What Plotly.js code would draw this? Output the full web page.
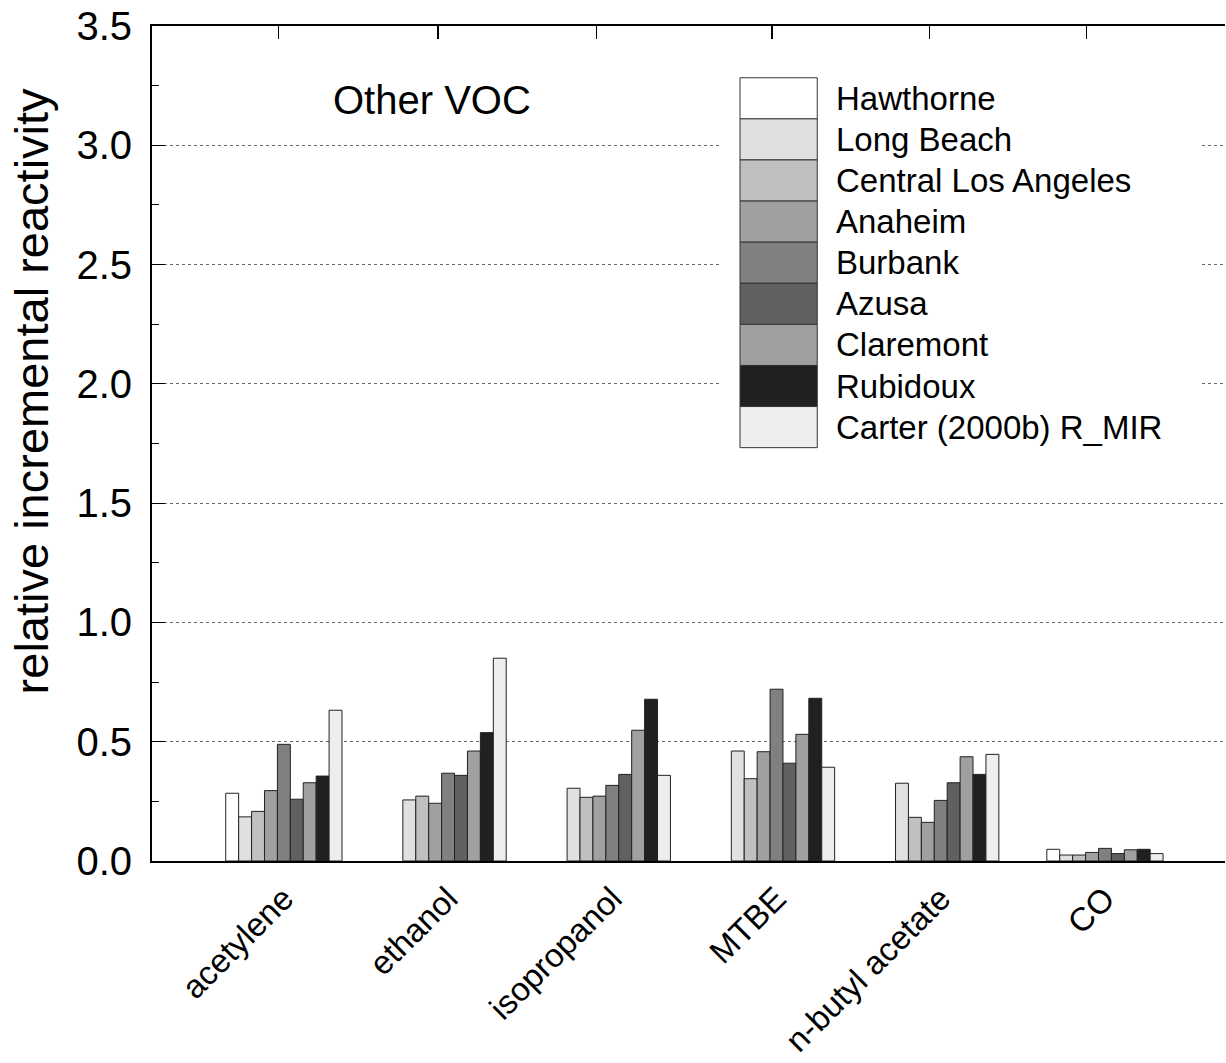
<!DOCTYPE html>
<html>
<head>
<meta charset="utf-8">
<script src="https://cdn.plot.ly/plotly-3.0.1.min.js"></script>
<style>
  html, body { margin: 0; padding: 0; background: #fff; }
  #chart { width: 1226px; height: 1063px; }
</style>
</head>
<body>
<div id="chart"></div>
<script>
// Compounds on the category axis
const compounds = ['acetylene', 'ethanol', 'isopropanol', 'MTBE', 'n-butyl acetate', 'CO'];

// Sites / reference set, in plotting order
const siteNames = ['Hawthorne', 'Long Beach', 'Central Los Angeles', 'Anaheim', 'Burbank',
                   'Azusa', 'Claremont', 'Rubidoux', 'Carter (2000b) R_MIR'];

// Relative incremental reactivity per site (null = no value)
const hawthorne   = [0.284, null,  null,  null,  null,  0.049];
const longBeach   = [0.185, 0.256, 0.305, 0.461, 0.326, 0.025];
const centralLA   = [0.208, 0.272, 0.267, 0.345, 0.183, 0.025];
const anaheim     = [0.295, 0.242, 0.272, 0.458, 0.162, 0.036];
const burbank     = [0.489, 0.368, 0.317, 0.720, 0.254, 0.053];
const azusa       = [0.259, 0.359, 0.363, 0.410, 0.328, 0.031];
const claremont   = [0.328, 0.461, 0.548, 0.531, 0.437, 0.047];
const rubidoux    = [0.356, 0.538, 0.678, 0.682, 0.363, 0.049];
const carterRMIR  = [0.632, 0.850, 0.359, 0.393, 0.447, 0.031];

const siteValues = [hawthorne, longBeach, centralLA, anaheim, burbank,
                    azusa, claremont, rubidoux, carterRMIR];

// Grey fills for each site
const siteFills = ['#ffffff', '#e0e0e0', '#c0c0c0', '#a0a0a0', '#808080',
                   '#606060', '#a0a0a0', '#202020', '#eeeeee'];

// Mirrored tick marks along the top frame (x-axis units)
const topTicks = [-0.032, 0.938, 1.905, 2.971, 3.931, 4.887];

const FONT = 'Liberation Sans, Arial, Helvetica, sans-serif';
const xRange = [-0.803, 5.731];

const traces = siteNames.map((name, i) => ({
  type: 'bar',
  name: name,
  x: compounds,
  y: siteValues[i],
  marker: { color: siteFills[i], line: { color: '#222222', width: 1 } },
  showlegend: false,
  hoverinfo: 'x+y+name'
}));

// Hand-built key: stacked swatches with labels, on a white panel that masks the grid
const keyLeft = 0.548, keyRight = 0.620, keyTop = 0.938, keyStep = 0.04922;
const shapes = [
  { type: 'rect', xref: 'paper', yref: 'paper', x0: 0.529, x1: 0.977, y0: 0.49, y1: 0.95,
    fillcolor: '#ffffff', line: { width: 0 }, layer: 'above' }
];
const annotations = [
  { xref: 'paper', yref: 'paper', x: 0.1670, y: 0.9114, xanchor: 'left', yanchor: 'middle',
    text: 'Other VOC', showarrow: false, font: { family: FONT, size: 40, color: '#000' } },
  // Vertical axis title, set a little above the plot's midpoint
  { xref: 'paper', yref: 'paper', x: -0.1119, y: 0.5623, xanchor: 'center', yanchor: 'middle',
    textangle: -90, text: 'relative incremental reactivity', showarrow: false,
    font: { family: FONT, size: 47, color: '#000' } }
];
siteNames.forEach((name, i) => {
  const top = keyTop - i * keyStep;
  shapes.push({ type: 'rect', xref: 'paper', yref: 'paper', x0: keyLeft, x1: keyRight,
                y0: top - keyStep, y1: top, fillcolor: siteFills[i],
                line: { color: '#333333', width: 1 }, layer: 'above' });
  annotations.push({ xref: 'paper', yref: 'paper', x: 0.636, y: top - keyStep / 2,
                     xanchor: 'left', yanchor: 'middle', text: name, showarrow: false,
                     font: { family: FONT, size: 33, color: '#000' } });
});

const layout = {
  width: 1226, height: 1063,
  margin: { l: 152, r: 1, t: 26, b: 202 },
  paper_bgcolor: '#ffffff', plot_bgcolor: '#ffffff',
  barmode: 'group', bargap: 0.292, bargroupgap: 0,
  font: { family: FONT, color: '#000' },
  xaxis: {
    type: 'category', range: xRange, showgrid: false, zeroline: false,
    showline: true, linecolor: '#000', linewidth: 2, ticks: '',
    tickangle: -45, ticklabelstandoff: 3,
    tickfont: { family: FONT, size: 33, color: '#000' }
  },
  xaxis2: {
    overlaying: 'x', side: 'top', anchor: 'y', range: xRange, type: 'linear',
    showgrid: false, zeroline: false, showline: true, linecolor: '#000', linewidth: 2,
    ticks: 'inside', ticklen: 13, tickcolor: '#000', tickwidth: 1.5,
    tickmode: 'array', tickvals: topTicks, showticklabels: false
  },
  yaxis: {
    range: [0, 3.5], dtick: 0.5, tickformat: '.1f', zeroline: false,
    showline: true, linecolor: '#000', linewidth: 2,
    ticks: 'inside', ticklen: 13, tickcolor: '#000',
    showgrid: true, gridcolor: '#666666', griddash: 'dot', gridwidth: 1,
    minor: { dtick: 0.25, ticks: 'inside', ticklen: 7, tickcolor: '#000', showgrid: false },
    tickfont: { family: FONT, size: 40, color: '#000' }, ticklabelstandoff: 10
  },
  shapes: shapes,
  annotations: annotations
};

// Empty trace to bring up the top axis with its tick marks
traces.push({ type: 'scatter', x: [], y: [], xaxis: 'x2', yaxis: 'y', showlegend: false, hoverinfo: 'skip' });

Plotly.newPlot('chart', traces, layout, { displayModeBar: false, staticPlot: true });
</script>
</body>
</html>
